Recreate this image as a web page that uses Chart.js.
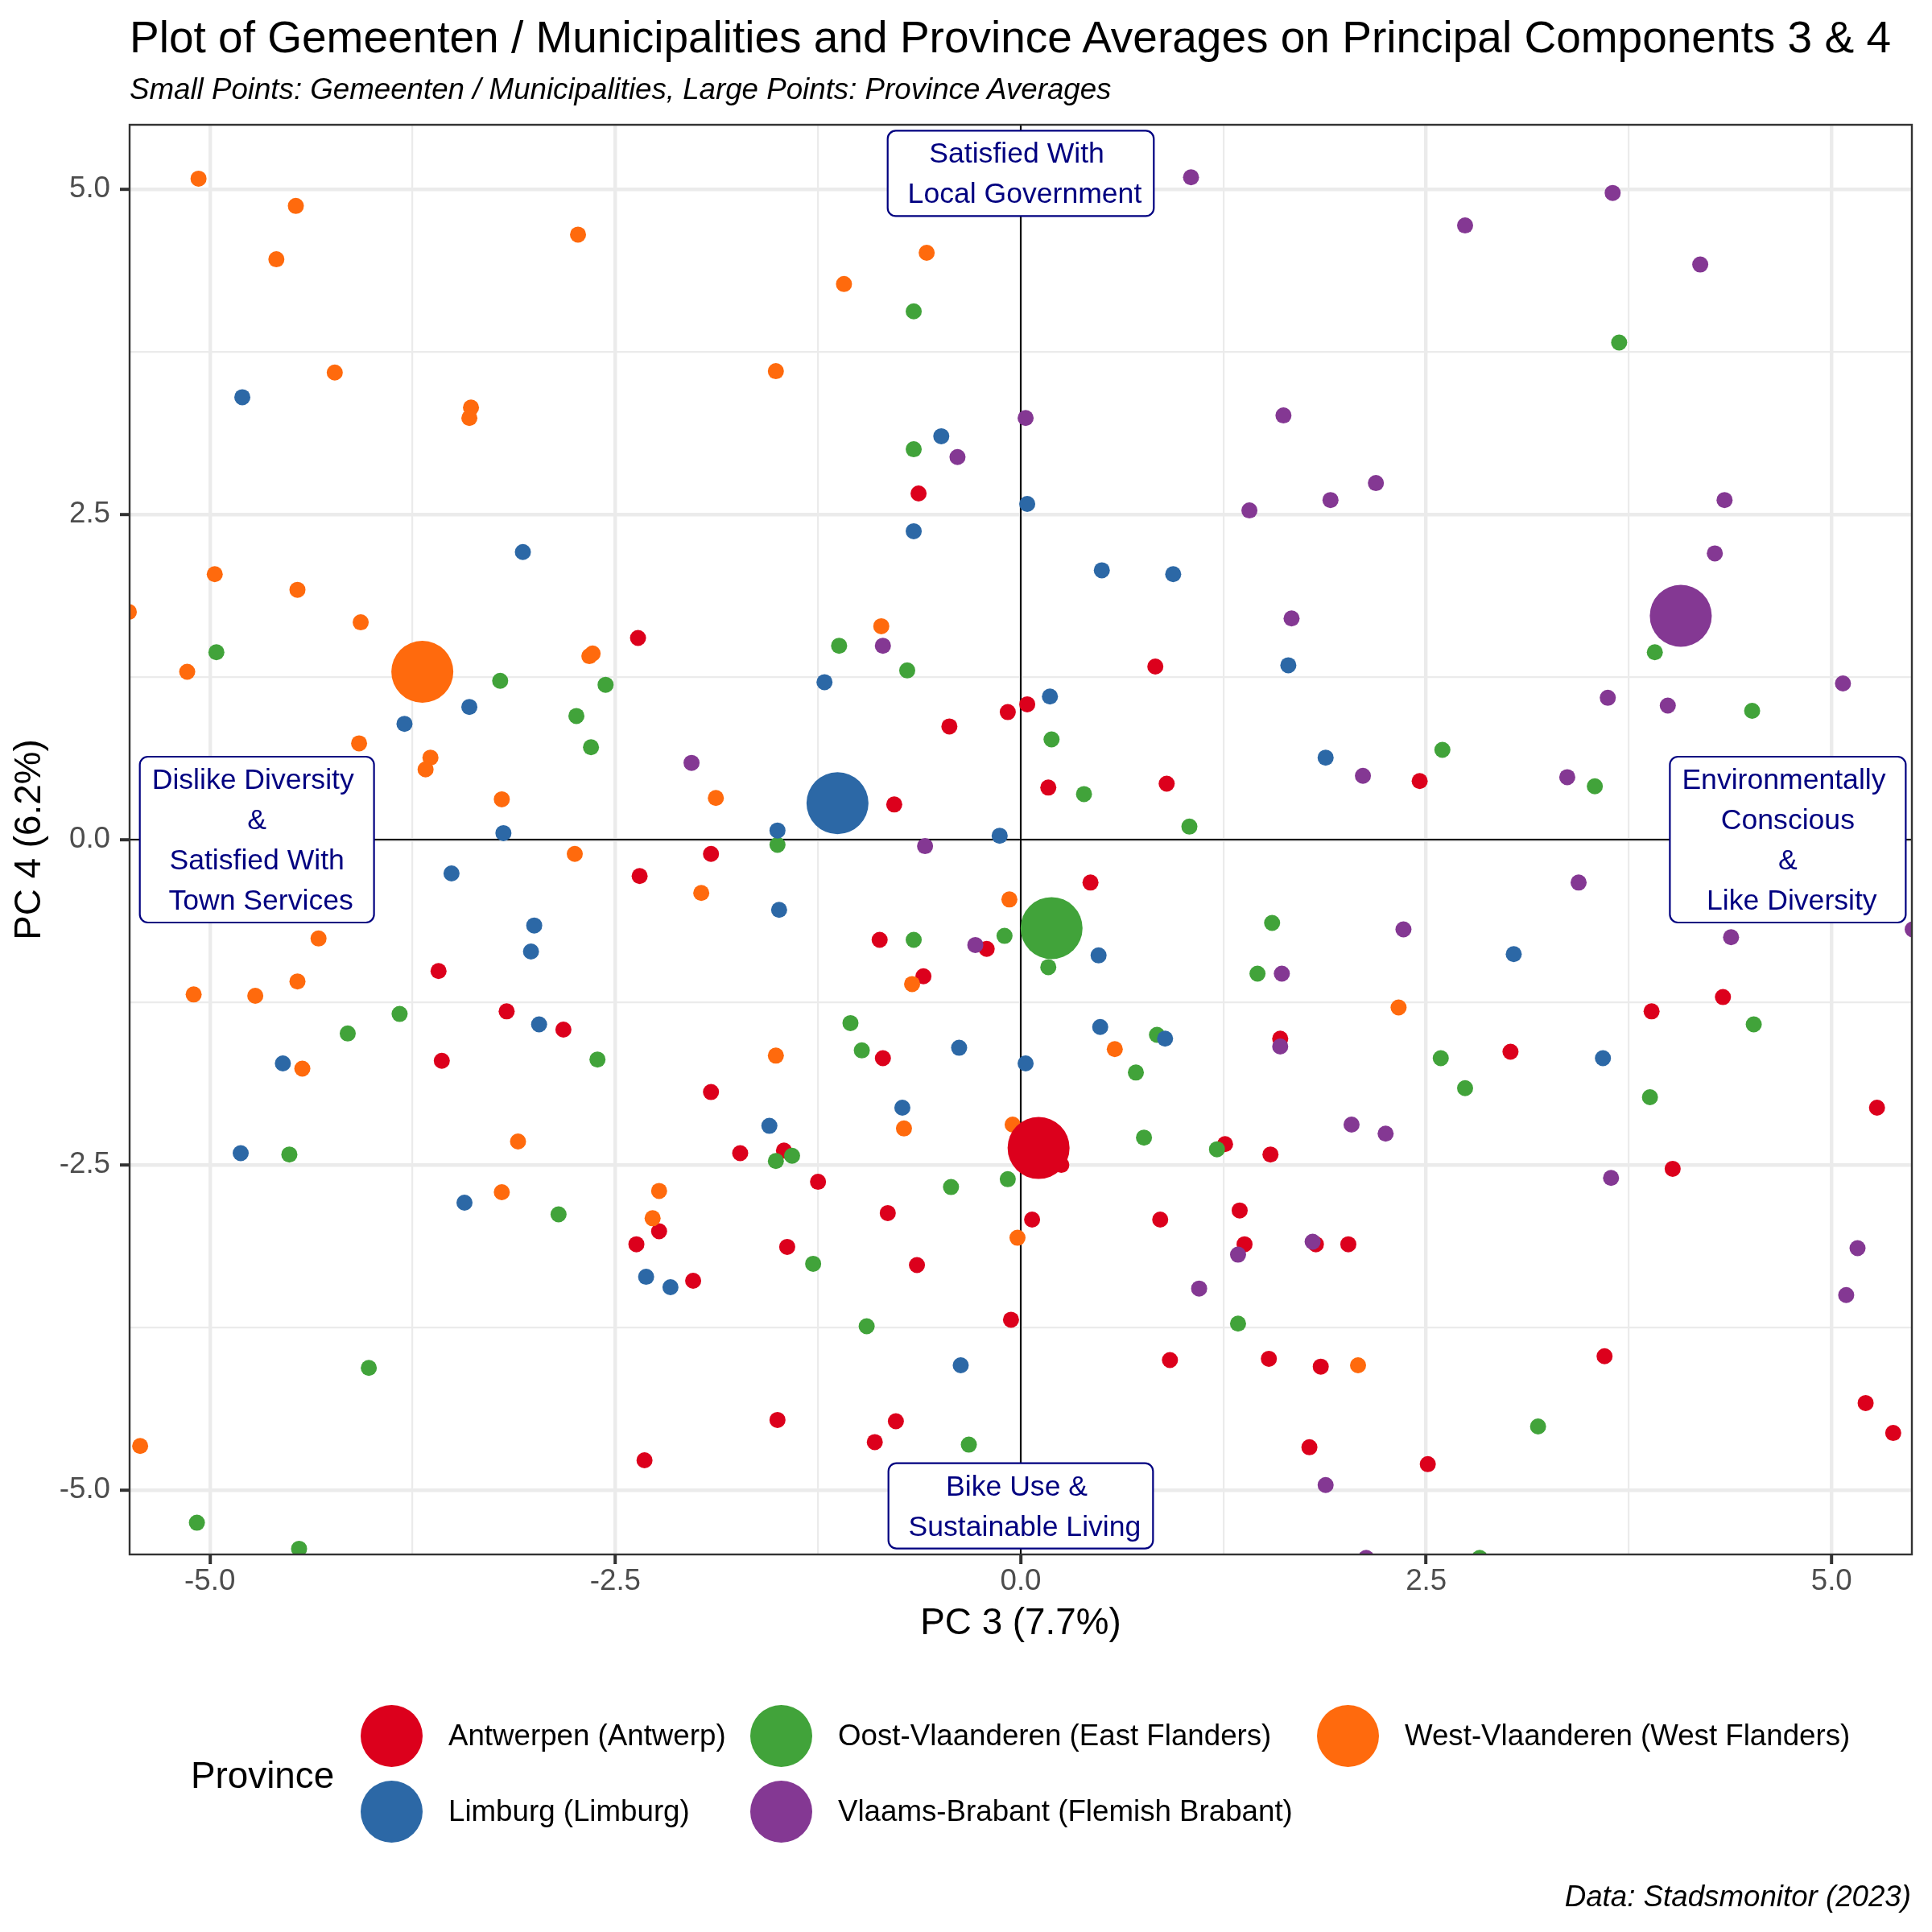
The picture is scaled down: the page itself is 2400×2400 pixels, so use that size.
<!DOCTYPE html>
<html>
<head>
<meta charset="utf-8">
<script src="https://cdn.jsdelivr.net/npm/chart.js@4.4.1/dist/chart.umd.min.js"></script>
<style>
  html, body { margin: 0; padding: 0; background: #ffffff; }
  body { width: 2400px; height: 2400px; position: relative; overflow: hidden;
         font-family: "Liberation Sans", Arial, sans-serif; color: #000; }
  #chart { position: absolute; left: 0; top: 0; }
  .txt { position: absolute; white-space: pre; line-height: 1; }
  #title { left: 161px; top: 19px; font-size: 55px; }
  #subtitle { left: 161px; top: 93px; font-size: 36.7px; font-style: italic; }
  #legendTitle { left: 237px; top: 2183px; font-size: 45.8px; }
  .key { position: absolute; width: 77px; height: 77px; border-radius: 50%; }
  .keyText { font-size: 36.7px; }
  #caption { right: 26px; top: 2338px; font-size: 36.7px; font-style: italic; }
</style>
</head>
<body>
<canvas id="chart" width="2400" height="2400"></canvas>
<div class="txt" id="title">Plot of Gemeenten / Municipalities and Province Averages on Principal Components 3 &amp; 4</div>
<div class="txt" id="subtitle">Small Points: Gemeenten / Municipalities, Large Points: Province Averages</div>
<div class="txt" id="legendTitle">Province</div>
<div id="legend"></div>
<div class="txt" id="caption">Data: Stadsmonitor (2023)</div>
<script>
// provinces, in legend order
const provinces = [
    'Antwerpen (Antwerp)',
    'Limburg (Limburg)',
    'Oost-Vlaanderen (East Flanders)',
    'Vlaams-Brabant (Flemish Brabant)',
    'West-Vlaanderen (West Flanders)'
];
const provinceColors = ['#DC001C', '#2C68A6', '#41A33A', '#843893', '#FF6A0D'];

// municipalities: [PC3, PC4]
const antwerpen = [
    [-0.63, 2.66], [-2.36, 1.55], [0.83, 1.33], [0.04, 1.04], [-0.08, 0.98], [-0.44, 0.87],
    [0.17, 0.40], [0.90, 0.43], [2.46, 0.45], [-0.78, 0.27], [-1.91, -0.11], [-2.35, -0.28],
    [0.43, -0.33], [-0.87, -0.77], [-0.21, -0.84], [-0.60, -1.05], [-3.59, -1.01], [-3.17, -1.32],
    [-2.82, -1.46], [-3.57, -1.70], [-0.85, -1.68], [1.60, -1.53], [3.02, -1.63], [3.89, -1.32],
    [4.33, -1.21], [-1.91, -1.94], [0.25, -2.50], [1.26, -2.34], [1.54, -2.42], [5.28, -2.06],
    [4.02, -2.53], [-1.73, -2.41], [-1.46, -2.39], [-1.25, -2.63], [-0.82, -2.87], [0.07, -2.92],
    [0.86, -2.92], [1.35, -2.85], [-2.37, -3.11], [-2.23, -3.01], [-1.44, -3.13], [-0.64, -3.27],
    [-2.02, -3.39], [1.38, -3.11], [1.82, -3.11], [2.02, -3.11], [-0.06, -3.69], [0.92, -4.00],
    [1.53, -3.99], [1.85, -4.05], [3.60, -3.97], [-1.50, -4.46], [-0.77, -4.47], [-0.90, -4.63],
    [1.78, -4.67], [5.21, -4.33], [5.38, -4.56], [-2.32, -4.77], [2.51, -4.80]
];
const limburg = [
    [-4.80, 3.40], [-0.49, 3.10], [0.04, 2.58], [-0.66, 2.37], [-3.07, 2.21], [0.50, 2.07],
    [0.94, 2.04], [-1.21, 1.21], [0.18, 1.10], [1.65, 1.34], [-3.40, 1.02], [-3.80, 0.89],
    [1.88, 0.63], [-1.50, 0.07], [-3.19, 0.05], [-0.13, 0.03], [-3.51, -0.26], [-1.49, -0.54],
    [-3.00, -0.66], [-3.02, -0.86], [0.48, -0.89], [3.04, -0.88], [-2.97, -1.42], [0.49, -1.44],
    [0.89, -1.53], [-0.38, -1.60], [-4.55, -1.72], [0.03, -1.72], [3.59, -1.68], [-0.73, -2.06],
    [-1.55, -2.20], [-4.81, -2.41], [-3.43, -2.79], [-2.31, -3.36], [-2.16, -3.44], [-0.37, -4.04]
];
const oostVlaanderen = [
    [-0.66, 4.06], [3.69, 3.82], [-0.66, 3.00], [-4.96, 1.44], [-1.12, 1.49], [-0.70, 1.30],
    [-3.21, 1.22], [-2.56, 1.19], [-2.74, 0.95], [-2.65, 0.71], [0.19, 0.77], [3.91, 1.44],
    [4.51, 0.99], [2.60, 0.69], [3.54, 0.41], [0.39, 0.35], [1.04, 0.10], [-1.50, -0.04],
    [1.55, -0.64], [-0.66, -0.77], [-0.10, -0.74], [0.17, -0.98], [1.46, -1.03], [-1.05, -1.41],
    [-0.98, -1.62], [-4.15, -1.49], [-3.83, -1.34], [-2.61, -1.69], [0.84, -1.50], [0.71, -1.79],
    [2.59, -1.68], [2.74, -1.91], [4.52, -1.42], [3.88, -1.98], [0.76, -2.29], [1.21, -2.38],
    [-4.51, -2.42], [-1.51, -2.47], [-1.41, -2.43], [-0.43, -2.67], [-0.08, -2.61], [-2.85, -2.88],
    [-1.28, -3.26], [-0.95, -3.74], [1.34, -3.72], [-4.02, -4.06], [3.19, -4.51], [-0.32, -4.65],
    [-5.08, -5.25], [-4.45, -5.45], [2.83, -5.52]
];
const vlaamsBrabant = [
    [1.05, 5.09], [3.65, 4.97], [2.74, 4.72], [4.19, 4.42], [0.03, 3.24], [1.62, 3.26],
    [-0.39, 2.94], [2.19, 2.74], [1.91, 2.61], [1.41, 2.53], [4.34, 2.61], [4.28, 2.20],
    [1.67, 1.70], [-0.85, 1.49], [5.07, 1.20], [3.62, 1.09], [3.99, 1.03], [-2.03, 0.59],
    [2.11, 0.49], [3.37, 0.48], [-0.59, -0.05], [3.44, -0.33], [2.36, -0.69], [4.38, -0.75],
    [5.50, -0.69], [-0.28, -0.81], [1.61, -1.03], [1.60, -1.59], [2.04, -2.19], [2.25, -2.26],
    [3.64, -2.60], [1.80, -3.09], [1.34, -3.19], [5.16, -3.14], [1.10, -3.45], [5.09, -3.50],
    [1.88, -4.96], [2.13, -5.52]
];
const westVlaanderen = [
    [-5.07, 5.08], [-4.47, 4.87], [-4.59, 4.46], [-2.73, 4.65], [-0.58, 4.51], [-1.09, 4.27],
    [-4.23, 3.59], [-3.39, 3.32], [-3.40, 3.24], [-1.51, 3.60], [-4.97, 2.04], [-4.46, 1.92],
    [-4.07, 1.67], [-5.50, 1.75], [-5.14, 1.29], [-2.66, 1.41], [-2.64, 1.43], [-0.86, 1.64],
    [-4.08, 0.74], [-3.64, 0.63], [-3.67, 0.54], [-1.88, 0.32], [-3.20, 0.31], [-2.75, -0.11],
    [-1.97, -0.41], [-0.07, -0.46], [-4.33, -0.76], [-5.10, -1.19], [-4.72, -1.20], [-4.46, -1.09],
    [-4.43, -1.76], [-0.67, -1.11], [-1.51, -1.66], [0.58, -1.61], [2.33, -1.29], [-0.72, -2.22],
    [-0.05, -2.19], [-3.10, -2.32], [-3.20, -2.71], [-2.23, -2.70], [-2.27, -2.91], [-0.02, -3.06],
    [2.08, -4.04], [-5.43, -4.66]
];
// province averages, same order as provinces
const provinceAverages = [[0.11, -2.37], [-1.13, 0.28], [0.19, -0.68], [4.07, 1.72], [-3.69, 1.29]];

const majorTicks = [-5, -2.5, 0, 2.5, 5];
const minorTicks = [-3.75, -1.25, 1.25, 3.75];
const tickLabels = ['-5.0', '-2.5', '0.0', '2.5', '5.0'];

// direction labels and where they sit in data units
const dirLabels = [
    'Satisfied With \n Local Government',
    'Bike Use & \n Sustainable Living',
    'Dislike Diversity \n & \n Satisfied With \n Town Services',
    'Environmentally \n Conscious \n & \n Like Diversity'
];
const dirAnchors = [[0, 5.12], [0, -5.12], [-4.71, 0], [4.73, 0]];

const FONT = '"Liberation Sans", Arial, sans-serif';
Chart.defaults.font.family = FONT;

// legend (html)
const legendPos = [[486, 2156], [486, 2250], [970, 2156], [970, 2250], [1674, 2156]];
const legendEl = document.getElementById('legend');
provinces.forEach((name, i) => {
    const [cx, cy] = legendPos[i];
    const dot = document.createElement('div');
    dot.className = 'key';
    dot.style.left = (cx - 38.5) + 'px';
    dot.style.top = (cy - 38.5) + 'px';
    dot.style.background = provinceColors[i];
    legendEl.appendChild(dot);
    const t = document.createElement('div');
    t.className = 'txt keyText';
    t.textContent = name;
    t.style.left = (cx + 71) + 'px';
    t.style.top = (cy + 13 - 31) + 'px';
    legendEl.appendChild(t);
});

function setTicks(scale) {
    scale.ticks = majorTicks.concat(minorTicks).sort((a, b) => a - b).map(v => ({value: v}));
}
const isMajor = c => c.tick && majorTicks.includes(c.tick.value);

const gridOpts = {
    color: '#EBEBEB',
    lineWidth: c => isMajor(c) ? 4.4 : 2.2,
    drawTicks: true,
    tickLength: 11,
    tickWidth: 4,
    tickColor: c => isMajor(c) ? '#333333' : 'rgba(0,0,0,0)'
};
const tickOpts = {
    autoSkip: false,
    maxRotation: 0,
    color: '#4D4D4D',
    font: {size: 36.7},
    callback: v => {
        const i = majorTicks.indexOf(v);
        return i >= 0 ? tickLabels[i] : '';
    }
};

const zeroLines = {
    id: 'zeroLines',
    beforeDatasetsDraw(chart) {
        const {ctx, chartArea: a, scales: {x, y}} = chart;
        const px = x.getPixelForValue(0), py = y.getPixelForValue(0);
        ctx.save();
        ctx.strokeStyle = '#000000';
        ctx.lineWidth = 2;
        ctx.beginPath();
        ctx.moveTo(px, a.top); ctx.lineTo(px, a.bottom);
        ctx.moveTo(a.left, py); ctx.lineTo(a.right, py);
        ctx.stroke();
        ctx.restore();
    }
};

const dirBoxes = {
    id: 'dirBoxes',
    afterDatasetsDraw(chart) {
        const {ctx, scales: {x, y}} = chart;
        ctx.save();
        ctx.font = '35.6px ' + FONT;
        dirLabels.forEach((txt, i) => {
            const lines = txt.split('\n');
            const cx = x.getPixelForValue(dirAnchors[i][0]);
            const cy = y.getPixelForValue(dirAnchors[i][1]);
            const w = Math.max(...lines.map(l => ctx.measureText(l).width)) + 30;
            const h = (lines.length - 1) * 50 + 56;
            ctx.beginPath();
            ctx.roundRect(cx - w / 2, cy - h / 2, w, h, 10);
            ctx.fillStyle = '#ffffff';
            ctx.fill();
            ctx.lineWidth = 2.2;
            ctx.strokeStyle = '#000080';
            ctx.stroke();
            ctx.fillStyle = '#000080';
            ctx.textAlign = 'center';
            ctx.textBaseline = 'alphabetic';
            lines.forEach((l, j) => ctx.fillText(l, cx, cy - h / 2 + 40 + j * 50));
        });
        ctx.restore();
    },
    afterDraw(chart) {
        const {ctx, chartArea: a} = chart;
        ctx.save();
        ctx.strokeStyle = '#333333';
        ctx.lineWidth = 2.4;
        ctx.strokeRect(a.left + 1, a.top + 1, a.right - a.left - 2, a.bottom - a.top - 2);
        ctx.restore();
    }
};

const pointSet = (data, color) => ({
    data: data.map(p => ({x: p[0], y: p[1]})),
    backgroundColor: color,
    pointRadius: 10,
    pointHoverRadius: 10,
    pointBorderWidth: 0,
    clip: 0
});

new Chart(document.getElementById('chart').getContext('2d'), {
    type: 'scatter',
    data: {
        datasets: [
            {
                data: provinceAverages.map(p => ({x: p[0], y: p[1]})),
                backgroundColor: provinceColors,
                pointRadius: 38.5,
                pointHoverRadius: 38.5,
                pointBorderWidth: 0,
                clip: 0
            },
            pointSet(vlaamsBrabant, provinceColors[3]),
            pointSet(limburg, provinceColors[1]),
            pointSet(oostVlaanderen, provinceColors[2]),
            pointSet(westVlaanderen, provinceColors[4]),
            pointSet(antwerpen, provinceColors[0])
        ]
    },
    options: {
        responsive: false,
        devicePixelRatio: 1,
        animation: false,
        events: [],
        layout: {autoPadding: false, padding: {left: 0, top: 154, right: 24, bottom: 355.5}},
        plugins: {legend: {display: false}, tooltip: {enabled: false}},
        scales: {
            x: {
                type: 'linear',
                min: -5.5,
                max: 5.5,
                afterBuildTicks: setTicks,
                afterFit: s => { s.height = 112.5; s.paddingLeft = 0; s.paddingRight = 0; },
                grid: gridOpts,
                border: {display: false},
                ticks: Object.assign({padding: 0}, tickOpts),
                title: {display: true, text: 'PC 3 (7.7%)', color: '#000', font: {size: 45.8}, padding: {top: 0, bottom: 0}}
            },
            y: {
                type: 'linear',
                min: -5.5,
                max: 5.5,
                afterBuildTicks: setTicks,
                afterFit: s => { s.width = 160; s.paddingTop = 0; s.paddingBottom = 0; },
                grid: gridOpts,
                border: {display: false},
                ticks: Object.assign({padding: 12}, tickOpts),
                title: {display: true, text: 'PC 4 (6.2%)', color: '#000', font: {size: 45.8}, padding: {top: 10, bottom: 0}}
            }
        }
    },
    plugins: [zeroLines, dirBoxes]
});
</script>
</body>
</html>
